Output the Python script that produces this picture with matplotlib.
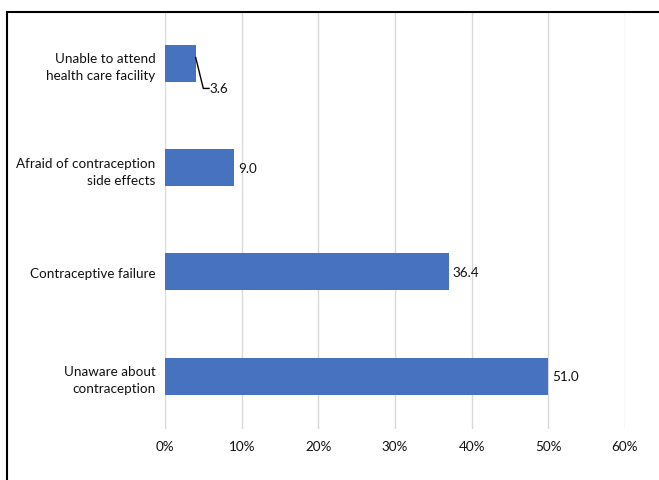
import matplotlib
matplotlib.use("Agg")
import matplotlib.pyplot as plt
from matplotlib.patches import Rectangle
from matplotlib.ticker import FuncFormatter

categories = ["Unable to attend\nhealth care facility",
              "Afraid of contraception\nside effects",
              "Contraceptive failure",
              "Unaware about\ncontraception"]
bar_values = [4.0, 9.0, 37.0, 50.0]
label_texts = ["3.6", "9.0", "36.4", "51.0"]
xticks = [0, 10, 20, 30, 40, 50, 60]

plt.rcParams['font.family'] = ['Lato', 'DejaVu Sans']

W, H = 659, 481
fig = plt.figure(figsize=(W / 100, H / 100), dpi=100)
ax = fig.add_axes([165 / W, 1 - 429.5 / H, (625 - 165) / W, (429.5 - 12) / H])

ypos = list(range(len(categories)))
ax.barh(ypos, bar_values, height=0.355, color="#4672BF", zorder=3)
ax.set_ylim(len(categories) - 0.5, -0.5)
ax.set_xlim(0, 60)
ax.set_xticks(xticks)
ax.xaxis.set_major_formatter(FuncFormatter(lambda v, p: f"{int(v)}%"))
ax.set_yticks(ypos)
ax.set_yticklabels(categories, fontsize=9.7, color="#111111", ha="right",
                   multialignment="right", linespacing=1.5)
ax.tick_params(axis="y", length=0, pad=7)
ax.tick_params(axis="x", length=0, pad=8, labelsize=9.7, labelcolor="#111111")
ax.grid(axis="x", color="#d9d9d9", linewidth=1, zorder=0)
for s in ax.spines.values():
    s.set_visible(False)

for i, (v, t) in enumerate(zip(bar_values, label_texts)):
    if i == 0:
        ax.plot([v, v + 1.0, v + 1.75], [i - 0.055, i + 0.242, i + 0.242],
                color="black", lw=1, zorder=4, solid_joinstyle="miter")
        ax.text(v + 1.8, i + 0.242, t, fontsize=9.7, color="#111111",
                va="center", ha="left")
    else:
        ax.text(v + 0.55, i, t, fontsize=9.7, color="#111111", va="center", ha="left")

fig.patches.append(Rectangle((6.5 / W, -0.05), 1.2, 1 - 12.5 / H + 0.05,
                             transform=fig.transFigure, fill=False,
                             edgecolor="black", linewidth=1.5))

fig.savefig("out.png", dpi=100)
